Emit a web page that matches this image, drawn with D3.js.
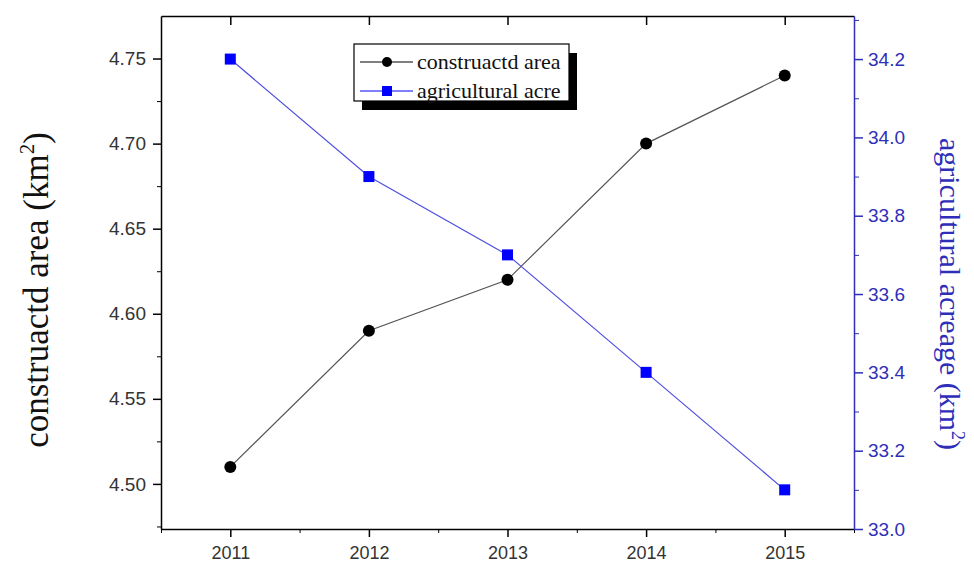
<!DOCTYPE html>
<html>
<head>
<meta charset="utf-8">
<script src="https://cdn.jsdelivr.net/npm/d3@7"></script>
<style>
  body { margin: 0; background: #fff; }
  svg { display: block; }
</style>
</head>
<body>
<div id="chart"></div>
<script>
// data
var years = [2011, 2012, 2013, 2014, 2015]
var constructedArea = [4.51, 4.59, 4.62, 4.70, 4.74]
var agriculturalAcre = [34.2, 33.9, 33.7, 33.4, 33.1]
var leftTicks = [4.50, 4.55, 4.60, 4.65, 4.70, 4.75]
var rightTicks = [33.0, 33.2, 33.4, 33.6, 33.8, 34.0, 34.2]
var seriesNames = ['construactd area', 'agricultural acre']

var width = 974, height = 563
var frame = {left: 161, right: 854, top: 16, bottom: 529}

var blue = '#0000ff'
var axisBlue = '#2e2eb8'

var svg = d3.select('#chart').append('svg')
  .attr('width', width)
  .attr('height', height)

var x = d3.scaleLinear().domain([2010.5, 2015.5]).range([frame.left, frame.right])
var yL = d3.scaleLinear().domain([4.4735, 4.775]).range([frame.bottom, frame.top])
var yR = d3.scaleLinear().domain([33.0, 34.31]).range([frame.bottom, frame.top])

// minor ticks first, then major axes on top
var xMinor = [2010.5, 2011.5, 2012.5, 2013.5, 2014.5, 2015.5]
svg.append('g')
  .attr('transform', 'translate(0,' + frame.bottom + ')')
  .call(d3.axisBottom(x).tickValues(xMinor).tickSize(4).tickFormat(''))
  .call(g => g.select('.domain').remove())

svg.append('g')
  .attr('transform', 'translate(' + frame.left + ',0)')
  .call(d3.axisLeft(yL).tickValues([4.475, 4.525, 4.575, 4.625, 4.675, 4.725]).tickSize(4).tickFormat(''))
  .call(g => g.select('.domain').remove())

svg.append('g')
  .attr('transform', 'translate(' + frame.right + ',0)')
  .call(d3.axisRight(yR).tickValues([33.1, 33.3, 33.5, 33.7, 33.9, 34.1, 34.3]).tickSize(5).tickFormat(''))
  .call(g => g.select('.domain').remove())
  .call(g => g.selectAll('line').attr('stroke', axisBlue))

// top frame with inward ticks
svg.append('g')
  .attr('transform', 'translate(0,' + frame.top + ')')
  .call(d3.axisBottom(x).tickValues(years).tickSize(9).tickSizeOuter(0).tickFormat(''))
  .call(g => g.select('.domain').attr('stroke-width', 1.5))
  .call(g => g.selectAll('line').attr('stroke-width', 1.5))

// bottom axis
var xAxis = svg.append('g')
  .attr('transform', 'translate(0,' + frame.bottom + ')')
  .call(d3.axisBottom(x).tickValues(years).tickSize(8).tickSizeOuter(0).tickFormat(d3.format('d')))
xAxis.select('.domain').attr('stroke-width', 1.5)
xAxis.selectAll('line').attr('stroke-width', 1.5)
xAxis.selectAll('text')
  .attr('dy', '1.05em')
  .style('font-family', 'Liberation Sans, Arial, sans-serif')
  .style('font-size', '18px')
  .attr('fill', '#333')

// left axis
var leftAxis = svg.append('g')
  .attr('transform', 'translate(' + frame.left + ',0)')
  .call(d3.axisLeft(yL).tickValues(leftTicks).tickSize(8).tickSizeOuter(0).tickFormat(d3.format('.2f')))
leftAxis.select('.domain').attr('stroke-width', 1.5)
leftAxis.selectAll('line').attr('stroke-width', 1.5)
leftAxis.selectAll('text')
  .attr('x', -15)
  .style('font-family', 'Liberation Sans, Arial, sans-serif')
  .style('font-size', '19px')
  .attr('fill', '#333')

// right axis
var rightAxis = svg.append('g')
  .attr('transform', 'translate(' + frame.right + ',0)')
  .call(d3.axisRight(yR).tickValues(rightTicks).tickSize(9).tickSizeOuter(0).tickFormat(d3.format('.1f')))
rightAxis.select('.domain').attr('stroke', axisBlue).attr('stroke-width', 1.5)
rightAxis.selectAll('line').attr('stroke', axisBlue).attr('stroke-width', 1.5)
rightAxis.selectAll('text')
  .attr('x', 14)
  .style('font-family', 'Liberation Sans, Arial, sans-serif')
  .style('font-size', '19px')
  .attr('fill', axisBlue)

// axis titles
var leftTitle = svg.append('text')
  .attr('transform', 'translate(48,290) rotate(-90)')
  .attr('text-anchor', 'middle')
  .style('font-family', 'Liberation Serif, Times New Roman, serif')
  .style('font-size', '35px')
  .attr('fill', '#111')
leftTitle.append('tspan').text('construactd area (km')
leftTitle.append('tspan').attr('dy', -14).style('font-size', '21px').text('2')
leftTitle.append('tspan').attr('dy', 14).text(')')

var rightTitle = svg.append('text')
  .attr('transform', 'translate(940,294) rotate(90)')
  .attr('text-anchor', 'middle')
  .style('font-family', 'Liberation Serif, Times New Roman, serif')
  .style('font-size', '30px')
  .attr('fill', axisBlue)
rightTitle.append('tspan').text('agricultural acreage (km')
rightTitle.append('tspan').attr('dy', -12).style('font-size', '18px').text('2')
rightTitle.append('tspan').attr('dy', 12).text(')')

// series lines
var lineL = d3.line().x((d, i) => x(years[i])).y(d => yL(d))
var lineR = d3.line().x((d, i) => x(years[i])).y(d => yR(d))

svg.append('path')
  .datum(constructedArea)
  .attr('d', lineL)
  .attr('fill', 'none')
  .attr('stroke', '#555')
  .attr('stroke-width', 1.2)

svg.append('path')
  .datum(agriculturalAcre)
  .attr('d', lineR)
  .attr('fill', 'none')
  .attr('stroke', '#5050e0')
  .attr('stroke-width', 1.2)

svg.selectAll('.sq')
  .data(agriculturalAcre)
  .enter()
  .append('rect')
  .attr('class', 'sq')
  .attr('x', (d, i) => x(years[i]) - 5.5)
  .attr('y', d => yR(d) - 5.5)
  .attr('width', 11)
  .attr('height', 11)
  .attr('fill', blue)

svg.selectAll('.dot')
  .data(constructedArea)
  .enter()
  .append('circle')
  .attr('class', 'dot')
  .attr('cx', (d, i) => x(years[i]))
  .attr('cy', d => yL(d))
  .attr('r', 6)
  .attr('fill', '#000')

// legend
var lg = svg.append('g').attr('transform', 'translate(354,44)')
var lw = 215, lh = 57
lg.append('rect')
  .attr('x', 8).attr('y', 9)
  .attr('width', lw).attr('height', lh)
  .attr('fill', '#000')
lg.append('rect')
  .attr('width', lw).attr('height', lh)
  .attr('fill', '#fff')
  .attr('stroke', '#000')
  .attr('stroke-width', 1.2)

var rows = [18, 47]
lg.selectAll('.lgline')
  .data(seriesNames)
  .enter()
  .append('line')
  .attr('x1', 6).attr('x2', 59)
  .attr('y1', (d, i) => rows[i]).attr('y2', (d, i) => rows[i])
  .attr('stroke', (d, i) => i == 0 ? '#000' : blue)
  .attr('stroke-width', 1.2)

lg.append('circle').attr('cx', 33).attr('cy', rows[0]).attr('r', 5).attr('fill', '#000')
lg.append('rect').attr('x', 28).attr('y', rows[1] - 5).attr('width', 10).attr('height', 10).attr('fill', blue)

lg.selectAll('.lgtext')
  .data(seriesNames)
  .enter()
  .append('text')
  .attr('x', 63)
  .attr('y', (d, i) => rows[i] + 7)
  .style('font-family', 'Liberation Serif, Times New Roman, serif')
  .style('font-size', '22px')
  .attr('fill', '#111')
  .text(d => d)
</script>
</body>
</html>
